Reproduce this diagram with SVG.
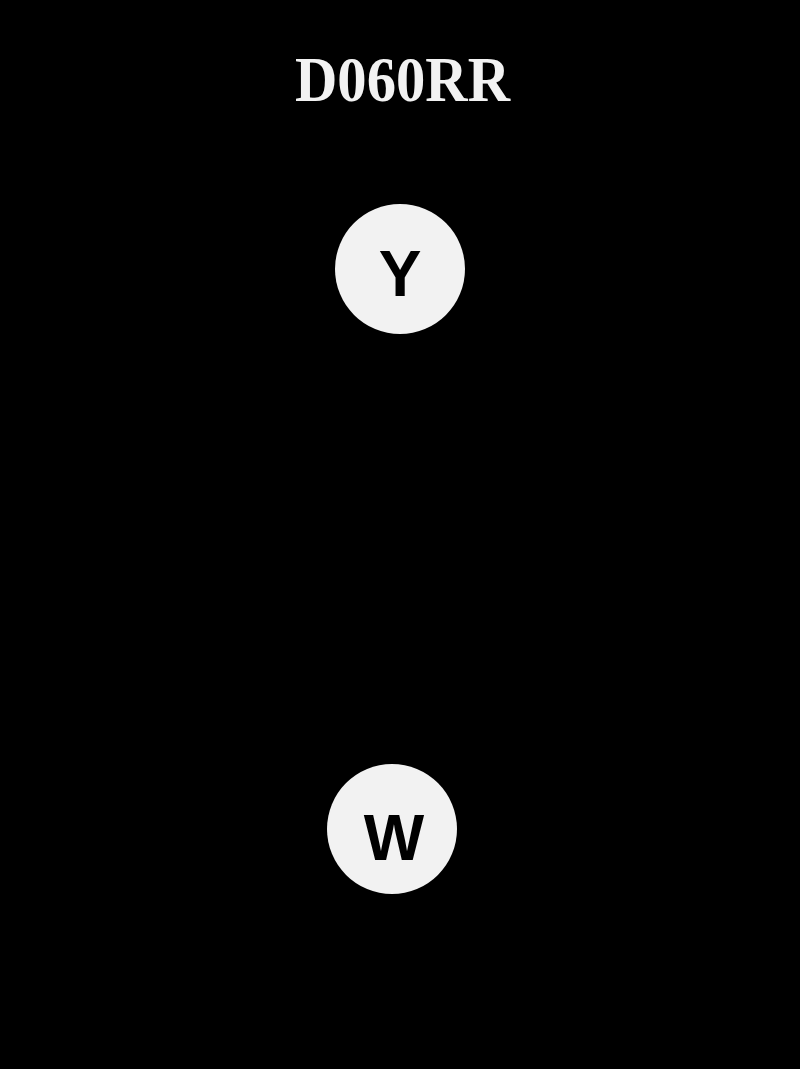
<svg xmlns="http://www.w3.org/2000/svg" width="800" height="1069" viewBox="0 0 800 1069">
<style>
.node circle{fill:#f2f2f2;}
.node text{font-family:"Liberation Sans",Arial,sans-serif;font-weight:bold;font-size:64px;fill:#000;text-anchor:middle;}
.title{font-family:"Liberation Serif","Times New Roman",serif;font-weight:bold;font-size:64px;fill:#f2f2f2;text-anchor:middle;}
</style>
<rect x="0" y="0" width="800" height="1069" fill="#000"/>
<text class="title" x="402.5" y="101" textLength="215" lengthAdjust="spacingAndGlyphs">D060RR</text>
<g id="connectors"></g>
<g id="node-Y" class="node">
<circle cx="400" cy="269" r="65"/>
<text x="400" y="296">Y</text>
</g>
<g id="node-W" class="node">
<circle cx="392" cy="829" r="65"/>
<text x="394" y="860">W</text>
</g>
</svg>
